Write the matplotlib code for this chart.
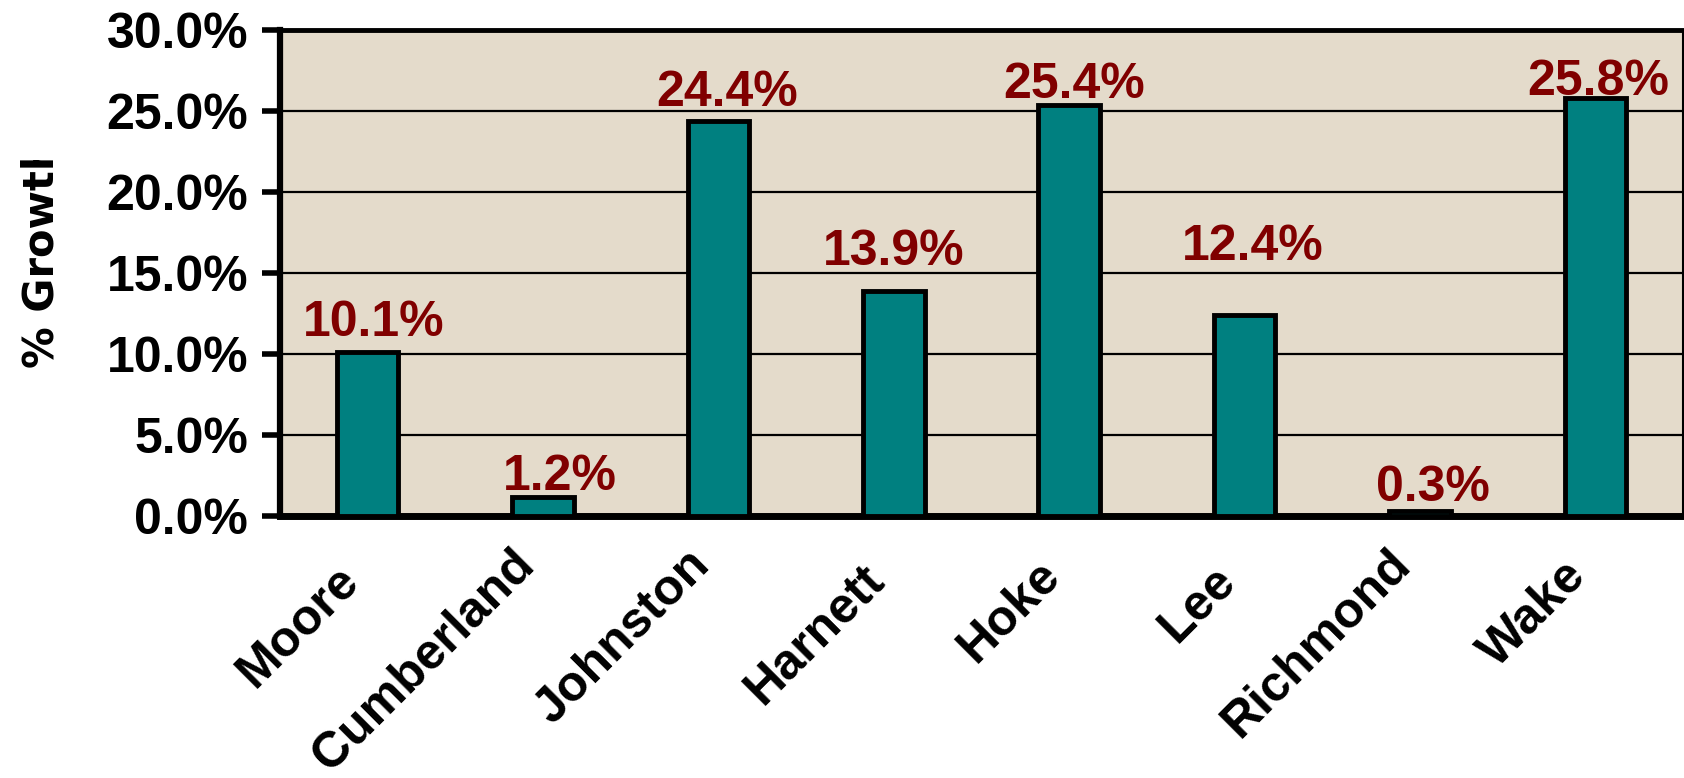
import matplotlib
matplotlib.use("Agg")
import matplotlib.pyplot as plt
from matplotlib.transforms import Bbox, ScaledTranslation

counties = ["Moore", "Cumberland", "Johnston", "Harnett", "Hoke", "Lee", "Richmond", "Wake"]
growth = [10.1, 1.2, 24.4, 13.9, 25.4, 12.4, 0.3, 25.8]
yticks = [0, 5, 10, 15, 20, 25, 30]
ytick_labels = ["0.0%", "5.0%", "10.0%", "15.0%", "20.0%", "25.0%", "30.0%"]
ylabel_text = "% Growth"

# value-label placement (pixels, relative to top of each bar)
label_dx = [6, 17, 9, 0, 5, 8, 13, 3]
label_dy = [16, 7, 15, 26, 7, 55, 10, 3]
# extra downward shift (pixels) of each category label
xlabel_drop = [16, 0, 0, 16, 11, 16, 0, 11]

plt.rcParams['font.family'] = ['Liberation Sans', 'DejaVu Sans']
plt.rcParams['font.weight'] = 'bold'

fig = plt.figure(figsize=(16.84, 7.78), dpi=100)
ax = fig.add_axes([280/1684, 262/778, 1403/1684, 486/778])
ax.set_facecolor('#E4DBCB')

x = list(range(len(counties)))
ax.bar(x, growth, width=0.35, color='#008080', edgecolor='black', linewidth=3.5, zorder=3)
ax.set_xlim(-0.5, len(counties) - 0.5)
ax.set_ylim(0, 30)

for t in yticks[1:-1]:
    ax.axhline(t, color='black', linewidth=1.6, zorder=1)

for xi, v, dx, dy in zip(x, growth, label_dx, label_dy):
    ax.annotate(f"{v:.1f}%", (xi, v), xytext=(dx, dy), textcoords='offset pixels',
                ha='center', va='baseline', color='#800000', fontsize=36,
                fontweight='bold', zorder=4)

ax.set_yticks(yticks)
ax.set_yticklabels(ytick_labels, fontsize=36, fontweight='bold')
ax.tick_params(axis='y', length=13, width=4, pad=10, direction='out')
ax.set_xticks(x)
ax.set_xticklabels(counties, rotation=45, ha='right', va='top', fontsize=36, fontweight='bold')
ax.tick_params(axis='x', length=0, pad=18)
for lbl, d in zip(ax.get_xticklabels(), xlabel_drop):
    lbl.set_transform(lbl.get_transform() + ScaledTranslation(0, -d / 100, fig.dpi_scale_trans))

ax.spines['left'].set_linewidth(4.5)
ax.spines['bottom'].set_linewidth(5)
ax.spines['top'].set_linewidth(3.5)
ax.spines['right'].set_linewidth(1.5)

lab = fig.text(53/1684, 1 - 368/778, ylabel_text, rotation=90, rotation_mode='anchor',
               ha='left', va='baseline', fontsize=30, fontweight='bold',
               family=['DejaVu Sans'])
lab.set_clip_box(Bbox([[0, 0], [1684, 778 - 160]]))
lab.set_clip_on(True)

fig.savefig("out.png", dpi=100)
